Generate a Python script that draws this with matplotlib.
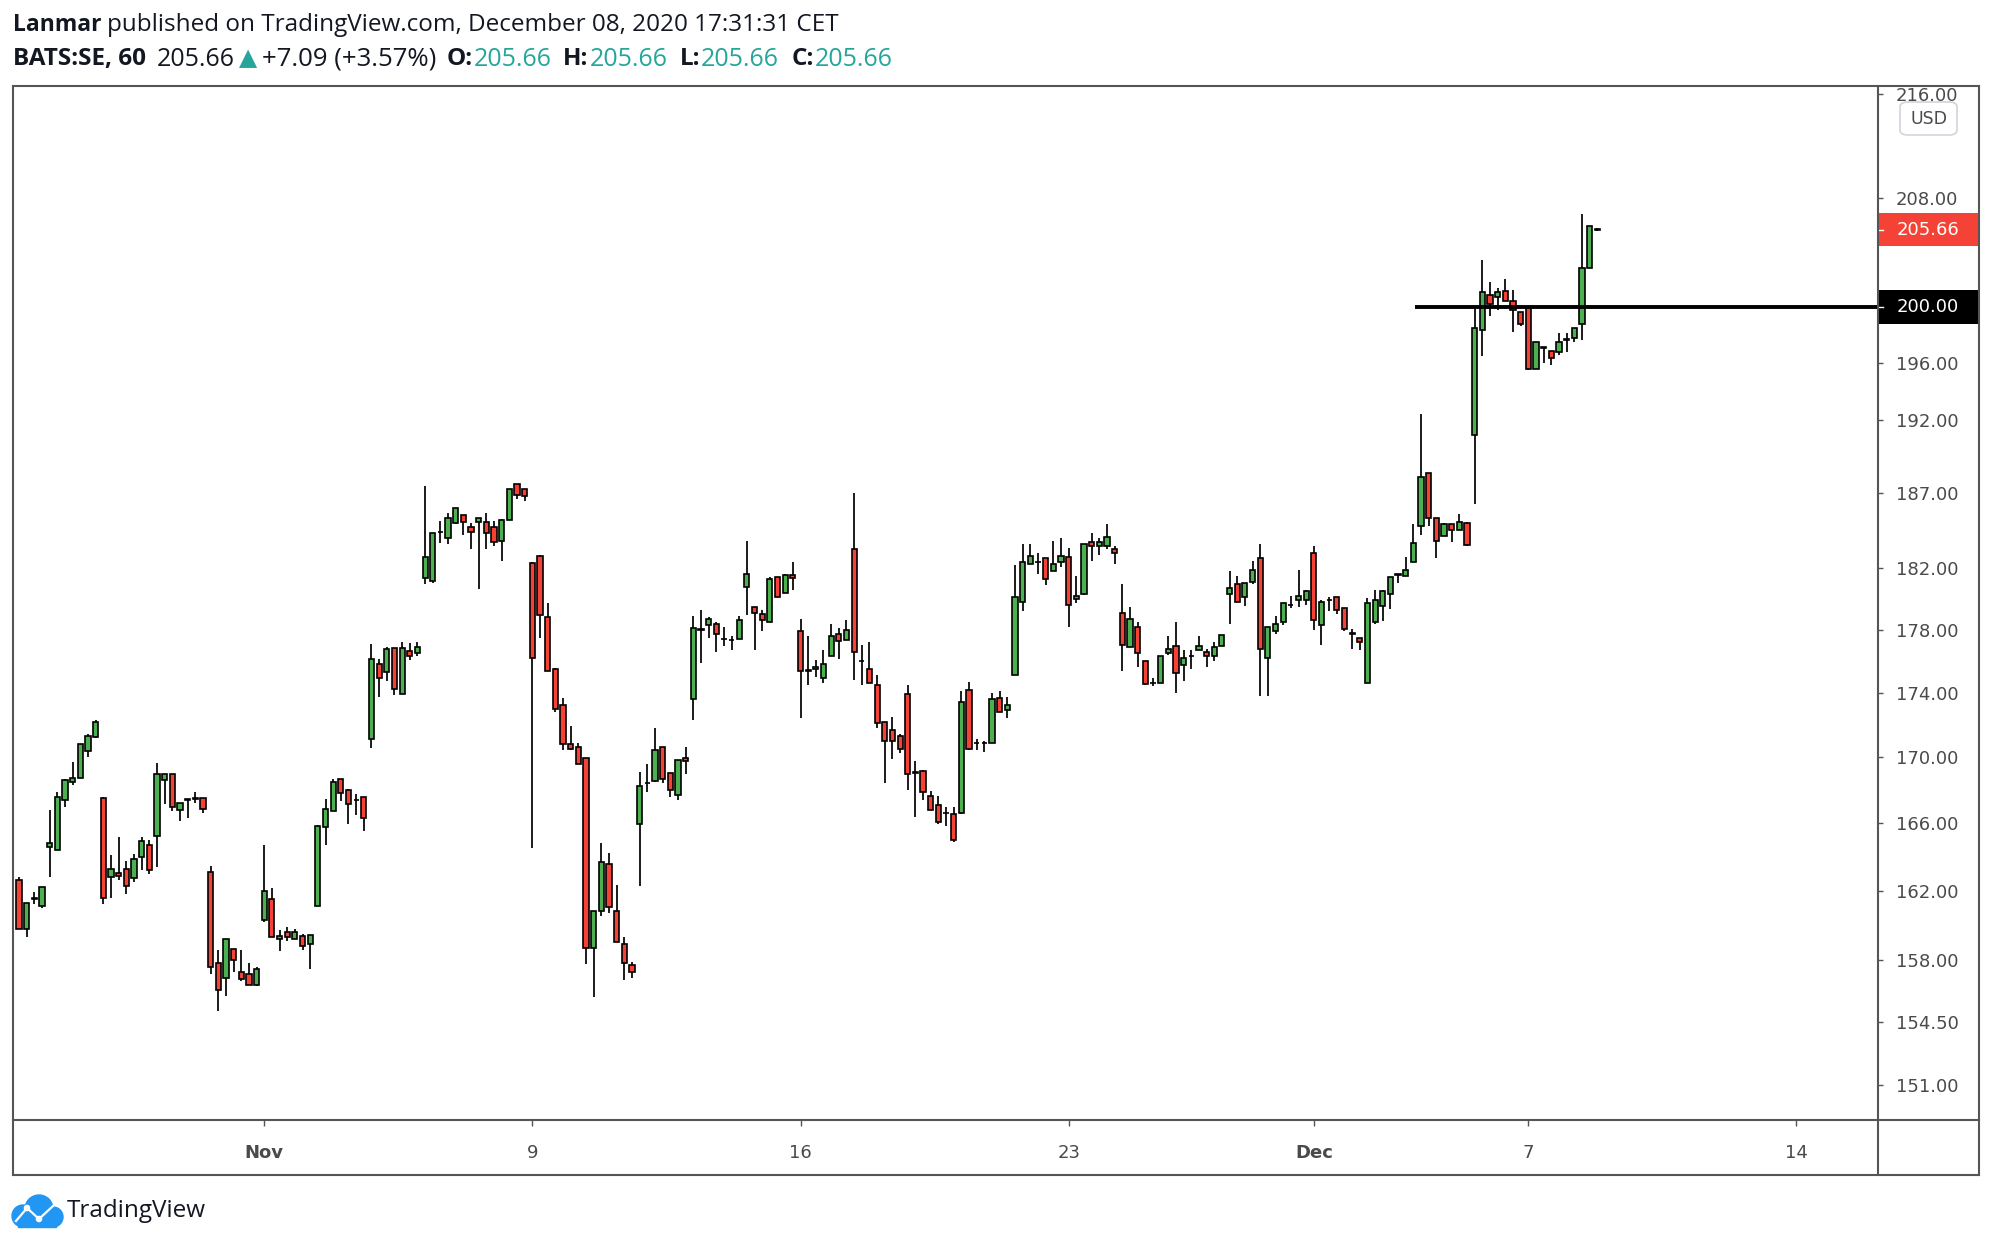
import matplotlib
matplotlib.use("Agg")
import matplotlib.pyplot as plt
import matplotlib.transforms as mtransforms
from matplotlib.patches import Rectangle, FancyBboxPatch, Circle
from matplotlib.lines import Line2D
from matplotlib.ticker import NullLocator
import numpy as np

# SE (BATS) hourly bars, Oct 26 12:30 ... Dec 08 11:30, one line per session
opens = [
    162.6, 159.8, 161.5, 161.1,
    164.6, 164.4, 167.4, 168.5, 168.7, 170.4, 171.25,
    167.5, 162.8, 163.05, 163.25, 162.75, 164.0, 164.7,
    165.25, 168.6, 169.0, 166.8, 167.4, 167.45, 167.5,
    163.1, 157.8, 157.0, 158.6, 157.3, 157.2, 156.6,
    160.3, 161.5, 159.2, 159.6, 159.2, 159.4, 158.9,
    161.1, 165.77, 166.75, 168.65, 168.0, 167.4, 167.6,
    171.15, 175.8, 175.3, 176.85, 173.9, 176.65, 176.5,
    181.35, 181.15, 184.4, 184.0, 185.0, 185.5, 184.7,
    185.05, 185.05, 184.75, 183.8, 185.2, 187.65, 187.25,
    182.35, 182.8, 178.85, 175.5, 173.25, 170.8, 170.6,
    169.95, 158.7, 160.8, 163.55, 160.8, 158.9, 157.7,
    165.95, 168.4, 168.57, 170.6, 169.05, 167.7, 169.95,
    173.6, 178.0, 178.3, 178.35, 177.4, 177.35, 177.4,
    180.8, 179.5, 179.0, 178.5, 181.4, 180.4, 181.55,
    177.95, 175.4, 175.5, 174.9, 176.3, 177.7, 177.35,
    183.3, 176.0, 175.5, 174.5, 172.15, 171.65, 171.3,
    173.9, 169.05, 169.13, 167.65, 167.1, 166.6, 166.55,
    166.6, 174.2, 170.85, 170.85, 170.85, 173.7, 172.95,
    175.1, 179.8, 182.25, 182.4, 182.7, 181.8, 182.4,
    182.75, 180.0, 180.3, 183.7, 183.45, 183.45, 183.3,
    179.1, 176.9, 178.2, 176.0, 174.6, 174.6, 176.5,
    176.95, 175.75, 176.3, 176.7, 176.55, 176.3, 176.95,
    180.3, 181.0, 180.1, 181.1,
    182.7, 176.2, 177.9, 178.5, 179.6, 179.9, 179.9,
    183.0, 178.3, 179.9, 180.1, 179.4, 177.75, 177.5,
    174.6, 178.5, 179.55, 180.3, 181.55, 181.5, 182.4,
    184.8, 188.35, 185.3, 184.1, 184.9, 184.5, 185.0,
    191.0, 198.35, 200.85, 200.7, 201.15, 200.45, 199.65,
    199.9, 195.6, 197.05, 196.85, 196.8, 197.6, 197.8,
    198.8, 202.85, 205.66,
]
highs = [
    162.8, 161.3, 161.9, 162.2,
    166.8, 167.85, 168.65, 169.7, 170.8, 171.4, 172.3,
    167.6, 164.1, 165.2, 163.75, 164.15, 165.15, 165.0,
    169.65, 169.0, 169.0, 167.2, 167.45, 167.9, 167.5,
    163.45, 158.55, 159.2, 158.6, 158.55, 157.8, 157.6,
    164.7, 162.15, 159.7, 159.9, 159.8, 159.5, 159.45,
    165.9, 167.45, 168.65, 168.65, 168.05, 167.75, 167.6,
    177.1, 176.15, 176.9, 176.85, 177.2, 177.15, 177.2,
    187.5, 184.35, 185.1, 185.7, 186.0, 185.5, 185.0,
    185.3, 185.7, 185.1, 185.25, 187.3, 187.65, 187.3,
    182.4, 182.85, 179.7, 175.55, 173.7, 171.9, 170.85,
    169.95, 160.8, 164.8, 164.2, 162.35, 159.3, 157.9,
    169.1, 169.6, 171.8, 170.6, 169.05, 169.85, 170.6,
    178.9, 179.3, 178.8, 178.5, 178.2, 177.6, 178.9,
    183.8, 179.5, 179.3, 181.4, 181.4, 181.6, 182.4,
    178.7, 177.6, 176.1, 176.7, 178.4, 178.1, 178.6,
    187.0, 177.0, 177.2, 175.15, 172.2, 172.5, 171.4,
    174.5, 169.75, 169.2, 167.95, 167.65, 167.0, 167.0,
    174.1, 174.7, 171.1, 171.0, 174.0, 174.1, 173.75,
    182.2, 183.6, 183.6, 183.0, 182.7, 183.8, 184.0,
    183.35, 181.5, 183.6, 184.3, 184.0, 184.9, 183.45,
    180.95, 179.5, 178.5, 176.0, 174.95, 176.35, 177.6,
    178.5, 176.7, 176.7, 177.6, 176.8, 177.25, 177.65,
    181.8, 181.5, 181.05, 182.5,
    183.6, 178.2, 178.9, 179.7, 180.2, 181.9, 180.55,
    183.5, 179.9, 180.1, 180.1, 179.4, 178.05, 177.5,
    180.05, 180.55, 180.55, 181.4, 181.6, 182.75, 184.9,
    192.4, 188.35, 185.3, 185.0, 184.9, 185.6, 185.05,
    199.85, 203.4, 201.85, 201.4, 202.0, 201.2, 199.65,
    200.05, 197.5, 197.1, 196.85, 198.1, 198.15, 198.5,
    206.8, 205.95, 205.75,
]
lows = [
    159.8, 159.3, 161.2, 161.0,
    162.8, 164.4, 166.95, 168.3, 168.7, 170.0, 171.2,
    161.2, 161.6, 162.65, 161.8, 162.5, 163.2, 163.0,
    163.4, 167.15, 166.7, 166.1, 166.3, 167.2, 166.6,
    157.2, 155.1, 155.95, 157.3, 156.8, 156.6, 156.5,
    160.2, 159.3, 158.5, 159.1, 159.2, 158.55, 157.5,
    161.1, 164.7, 166.75, 167.35, 165.95, 166.5, 165.55,
    170.55, 173.75, 174.75, 173.85, 173.9, 176.1, 176.3,
    181.0, 181.05, 183.65, 183.6, 184.95, 184.2, 183.3,
    180.65, 183.3, 183.45, 182.5, 185.2, 186.6, 186.45,
    164.5, 177.5, 175.35, 172.8, 170.45, 170.45, 169.6,
    157.75, 155.9, 160.5, 160.7, 159.0, 156.85, 157.0,
    162.25, 167.9, 168.5, 168.4, 167.6, 167.4, 169.0,
    172.3, 175.9, 177.5, 176.55, 176.95, 176.7, 177.4,
    178.95, 176.7, 177.95, 178.5, 180.1, 180.4, 180.6,
    172.4, 174.5, 175.0, 174.6, 176.3, 176.15, 177.35,
    174.8, 174.5, 174.6, 171.8, 168.45, 169.9, 170.25,
    168.0, 166.35, 167.4, 166.8, 165.95, 165.85, 164.85,
    166.55, 170.45, 170.45, 170.3, 170.85, 172.8, 172.45,
    175.1, 179.2, 182.25, 181.6, 180.9, 181.8, 182.1,
    178.2, 179.7, 180.25, 182.5, 182.9, 183.3, 182.3,
    175.4, 176.9, 175.6, 174.5, 174.4, 174.6, 176.4,
    174.0, 174.75, 175.5, 176.7, 175.6, 176.0, 176.95,
    178.4, 179.8, 179.55, 181.0,
    173.8, 173.8, 177.75, 178.3, 179.4, 179.5, 179.6,
    178.0, 177.0, 179.2, 179.0, 177.95, 176.8, 176.7,
    174.6, 178.4, 178.55, 179.35, 181.05, 181.5, 182.4,
    184.2, 184.8, 182.7, 184.1, 183.7, 184.5, 183.5,
    186.3, 196.5, 199.35, 199.8, 200.4, 198.2, 198.6,
    195.5, 195.55, 196.0, 195.85, 196.55, 196.8, 197.5,
    197.65, 202.85, 205.6,
]
closes = [
    159.8, 161.3, 161.6, 162.2,
    164.8, 167.55, 168.6, 168.7, 170.8, 171.3, 172.2,
    161.55, 163.3, 162.85, 162.3, 163.85, 164.95, 163.2,
    168.95, 169.0, 166.95, 167.2, 167.45, 167.5, 166.85,
    157.6, 156.3, 159.2, 158.0, 156.9, 156.6, 157.5,
    162.0, 159.3, 159.4, 159.3, 159.6, 158.8, 159.45,
    165.8, 166.85, 168.5, 167.8, 167.15, 167.4, 166.3,
    176.15, 174.9, 176.8, 174.25, 176.85, 176.35, 176.9,
    182.75, 184.35, 184.4, 185.3, 186.0, 185.05, 184.4,
    185.3, 184.35, 183.75, 185.2, 187.25, 186.85, 186.8,
    176.2, 178.95, 175.4, 173.0, 170.8, 170.5, 169.6,
    158.7, 160.8, 163.7, 161.05, 159.0, 157.8, 157.3,
    168.25, 168.4, 170.45, 168.65, 168.0, 169.85, 169.75,
    178.1, 178.05, 178.7, 177.75, 177.4, 177.35, 178.65,
    181.6, 179.1, 178.6, 181.3, 180.15, 181.55, 181.35,
    175.4, 175.4, 175.6, 175.8, 177.6, 177.3, 178.0,
    176.6, 176.0, 174.6, 172.1, 171.0, 171.0, 170.5,
    168.95, 169.05, 167.9, 166.8, 166.05, 166.6, 165.0,
    173.4, 170.5, 170.85, 170.9, 173.6, 172.8, 173.25,
    180.15, 182.4, 182.8, 182.4, 181.3, 182.3, 182.8,
    179.6, 180.2, 183.6, 183.45, 183.7, 184.05, 183.0,
    177.0, 178.7, 176.5, 174.55, 174.6, 176.35, 176.8,
    175.25, 176.2, 176.3, 176.95, 176.3, 176.9, 177.65,
    180.7, 179.8, 181.05, 181.9,
    176.75, 178.15, 178.35, 179.7, 179.6, 180.2, 180.5,
    178.6, 179.8, 179.9, 179.3, 178.05, 177.75, 177.2,
    179.7, 179.9, 180.5, 181.4, 181.6, 181.9, 183.65,
    188.1, 185.35, 183.8, 184.9, 184.5, 185.05, 183.55,
    198.5, 201.1, 200.25, 201.1, 200.4, 199.8, 198.8,
    195.6, 197.5, 197.1, 196.35, 197.5, 197.7, 198.5,
    202.85, 205.95, 205.66,
]

# bar index where each date label sits (Nov 2, 9, 16, 23, Dec 1, 7, 14)
date_bars = [32, 67, 102, 137, 169, 197, 232]
date_labels = ["Nov", "9", "16", "23", "Dec", "7", "14"]
price_ticks = [151, 154.5, 158, 162, 166, 170, 174, 178, 182, 187, 192, 196, 208, 216]
level = 200.0          # drawn horizontal line
last_price = 205.66
line_start_bar = 182.2

W, H = 1992, 1248
fig = plt.figure(figsize=(W / 100, H / 100), dpi=100)
fig.patch.set_facecolor("white")

def fx(px):
    return px / W

def fy(py):
    return 1 - py / H

L, T, R, B = 12.7, 86.4, 1877.7, 1120.0
RR, BB = 1979.0, 1174.5
ax = fig.add_axes([fx(L), fy(B), fx(R) - fx(L), fy(T) - fy(B)])
for s in ax.spines.values():
    s.set_visible(False)

x = np.arange(len(opens))
o = np.array(opens); c = np.array(closes)
up = c >= o
colors = np.where(up, "#4caf50", "#f44336")
ax.vlines(x, lows, highs, color="black", lw=1.25, zorder=2)
ax.bar(x, np.maximum(np.abs(c - o), 0.02), bottom=np.minimum(o, c), width=0.68,
       color=colors, edgecolor="black", linewidth=1.2, zorder=3)

ax.hlines(level, line_start_bar, 242.6, color="black", lw=2.8, zorder=4)

ax.set_yscale("log")
ax.set_ylim(149.13, 216.58)
ax.set_xlim(-0.83, 242.6)
ax.yaxis.set_minor_locator(NullLocator())
ax.yaxis.tick_right()
ax.set_yticks(price_ticks, ["%.2f" % p for p in price_ticks])
ax.tick_params(axis="y", direction="out", length=3.6, width=1, color="#555555",
               pad=9.5, labelsize=13, labelcolor="#4a4a4a")
ax.set_xticks(date_bars, date_labels)
ax.tick_params(axis="x", direction="out", length=4.5, width=1, color="#555555",
               pad=12.5, labelsize=13, labelcolor="#4a4a4a")
for lab in ax.get_xticklabels():
    if lab.get_text() in ("Nov", "Dec"):
        lab.set_fontweight("bold")

# price labels on the scale
blend = mtransforms.blended_transform_factory(ax.transAxes, ax.transData)
hh = np.exp(16.5 / 2767)
box_w = (1978 - L) / (R - L) - 1.0
for price, face in ((last_price, "#f44336"), (level, "black")):
    ax.add_patch(Rectangle((1.0, price / hh), box_w, price * hh - price / hh,
                           transform=blend, facecolor=face, edgecolor="none",
                           clip_on=False, zorder=5))
    ax.add_line(Line2D([1.0, 1.0 + 5 / (R - L)], [price, price], transform=blend,
                       color="white", lw=1, clip_on=False, zorder=6))
    ax.text(1.0 + (1896.7 - R) / (R - L), price, "%.2f" % price, transform=blend,
            color="white", fontsize=13, va="center", ha="left", zorder=6)

# hide the part of the top label that falls outside the frame
fig.patches.append(Rectangle((fx(R + 1), fy(T - 1)), 1 - fx(R + 1), 1 - fy(T - 1),
                             transform=fig.transFigure, facecolor="white",
                             edgecolor="none", zorder=2))

# USD badge
fig.patches.append(FancyBboxPatch((fx(1900), fy(135)), fx(57), fy(102) - fy(135),
                                  boxstyle="round,pad=0,rounding_size=0.004",
                                  transform=fig.transFigure, facecolor="white",
                                  edgecolor="#d1d4dc", lw=1.2, zorder=3))
fig.text(fx(1928.5), fy(118.5), "USD", fontsize=12.5, color="#4a4a4a",
         ha="center", va="center", zorder=4)

# frame
frame = [((L, RR), (T, T)), ((L, RR), (BB, BB)), ((L, L), (T, BB)),
         ((RR, RR), (T, BB)), ((L, RR), (B, B)), ((R, R), (T, BB))]
for (xs, ys) in frame:
    fig.add_artist(Line2D([fx(v) for v in xs], [fy(v) for v in ys],
                          transform=fig.transFigure, color="#555555",
                          lw=1.5, zorder=5))

# header
hfont = ["Open Sans", "DejaVu Sans"]
renderer = fig.canvas.get_renderer()

def write_line(pieces, y):
    cx = fx(12.7)
    for txt, col, wt, size, gap in pieces:
        t = fig.text(cx, fy(y), txt, color=col, fontweight=wt, fontsize=size,
                     family=hfont, va="center", ha="left")
        cx += (t.get_window_extent(renderer).width + gap) / W

dark = "#131722"
teal = "#26a69a"
write_line([("Lanmar", dark, "bold", 16.5, 6),
            ("published on TradingView.com, December 08, 2020 17:31:31 CET", dark, "normal", 17.5, 0)],
           25)
write_line([("BATS:SE, 60", dark, "bold", 17.5, 11),
            ("205.66", dark, "normal", 18, 4),
            ("\u25b2", teal, "normal", 17, 5),
            ("+7.09 (+3.57%)", dark, "normal", 18.5, 10),
            ("O:", dark, "bold", 17.5, 1), ("205.66", teal, "normal", 18, 12),
            ("H:", dark, "bold", 17.5, 1), ("205.66", teal, "normal", 18, 12),
            ("L:", dark, "bold", 17.5, 1), ("205.66", teal, "normal", 18, 12),
            ("C:", dark, "bold", 17.5, 1), ("205.66", teal, "normal", 18, 0)],
           59)

# footer logo + name
lax = fig.add_axes([fx(8), fy(1230), fx(58), fy(1190) - fy(1230)])
lax.set_xlim(0, 58); lax.set_ylim(0, 40); lax.axis("off")
blue = "#2196f3"
for (cx0, cy0, r) in ((15, 14, 11), (31, 21, 14), (45, 13, 10)):
    lax.add_patch(Circle((cx0, cy0), r, color=blue))
lax.add_patch(Rectangle((10, 3), 38, 12, color=blue))
lax.plot([8, 19, 31, 45], [9, 22, 11, 24], color="white", lw=1.6)
for (px_, py_) in ((19, 22), (31, 11)):
    lax.add_patch(Circle((px_, py_), 2.6, color="white"))
fig.text(fx(67), fy(1211), "TradingView", fontsize=17.5, color="#131722",
         family=hfont, va="center", ha="left")

fig.savefig("out.png", dpi=100, facecolor="white")
